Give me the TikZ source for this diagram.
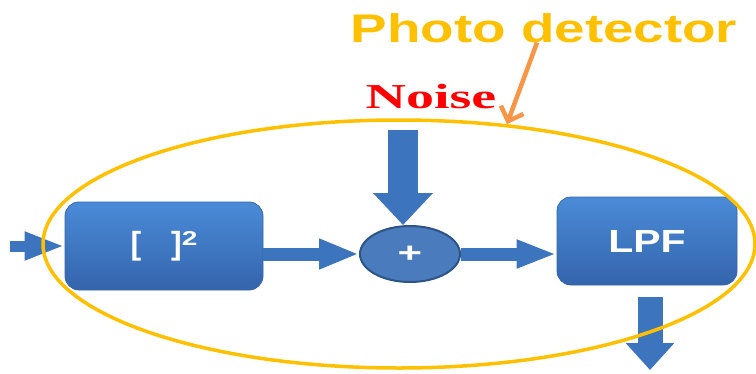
\documentclass[tikz,border=0pt]{standalone}
\usepackage{fontspec}
\setmainfont{Liberation Sans}
\newfontfamily\noisefont{Liberation Serif}
\usetikzlibrary{shapes.geometric,arrows.meta,positioning,calc}
\definecolor{gold}{HTML}{FFC000}
\definecolor{orangearrow}{HTML}{F79646}
\definecolor{bluetop}{HTML}{4A8BD8}
\definecolor{bluebot}{HTML}{3464AC}
\definecolor{blueedge}{HTML}{3466A8}
\definecolor{arrowblue}{HTML}{3D74BE}
\definecolor{sumfill}{HTML}{4A7BBD}
\definecolor{sumedge}{HTML}{2C5486}
\tikzset{
	block/.style ={rectangle, rounded corners=14pt, draw=blueedge, line width=0.8pt,
		top color=bluetop, bottom color=bluebot, text=white,
		font=\bfseries\fontsize{32}{32}\selectfont,
		minimum width=198pt, minimum height=88pt},
	sumnode/.style ={ellipse, draw=sumedge, line width=2pt, fill=sumfill, text=white,
		font=\bfseries\fontsize{28}{28}\selectfont,
		minimum width=100pt, minimum height=56pt, inner sep=0pt},
	flow/.style n args={3}{arrowblue, line width=#1,
		-{Triangle[length=#3, width=#2]}},
	pdring/.style ={ellipse, draw=gold, line width=3.5pt,
		minimum width=712pt, minimum height=248pt},
	lbl/.style = {anchor=base, inner sep=0pt}
}
\begin{document}
\begin{tikzpicture}[x=1pt,y=-1pt]
    \useasboundingbox (0,0) rectangle (756,373);

    \node[block] (sq) at (164,246) {[\hspace{30pt}]\raisebox{9pt}{\scalebox{1.4}[1]{\fontsize{20}{20}\selectfont 2}}};
    \node[sumnode] (sum) at (410,254) {\scalebox{1.5}[1]{+}};
    \node[block, minimum width=180pt] (lpf) at (647,241) {\scalebox{1.28}[1]{LPF}};

    \coordinate (in) at (10,0);
    \coordinate (noise) at (403,130);
    \coordinate (out) at (650,370);

    \draw[flow={11pt}{26pt}{40pt}] (in |- sq.west) -- (sq.west);
    \draw[flow={13pt}{28pt}{40pt}] (sq.east |- sum.west) -- (sum.west);
    \draw[flow={13pt}{26pt}{40pt}] (sum.east) -- (sum.east -| lpf.west);
    \draw[flow={30pt}{58pt}{32pt}] (noise) -- (noise |- sum.north);
    \draw[flow={25pt}{47pt}{27pt}, shorten <=12pt] (lpf.south -| out) -- (out);

    \node[pdring] (pd) at (399,244) {};

    \node[lbl, text=gold, font=\bfseries\fontsize{40}{40}\selectfont] (pdlabel) at (544,42) {\scalebox{1.37}[1]{Photo detector}};
    \node[lbl, text=red, font=\noisefont\bfseries\fontsize{35}{35}\selectfont] (noiselabel) at (431,108) {\scalebox{1.6}[1]{Noise}};

    \draw[orangearrow, line width=4.5pt, -{Straight Barb[length=12pt,width=24pt]}] ([xshift=-7pt]pdlabel.south) -- (pd.48);

\end{tikzpicture}
\end{document}
